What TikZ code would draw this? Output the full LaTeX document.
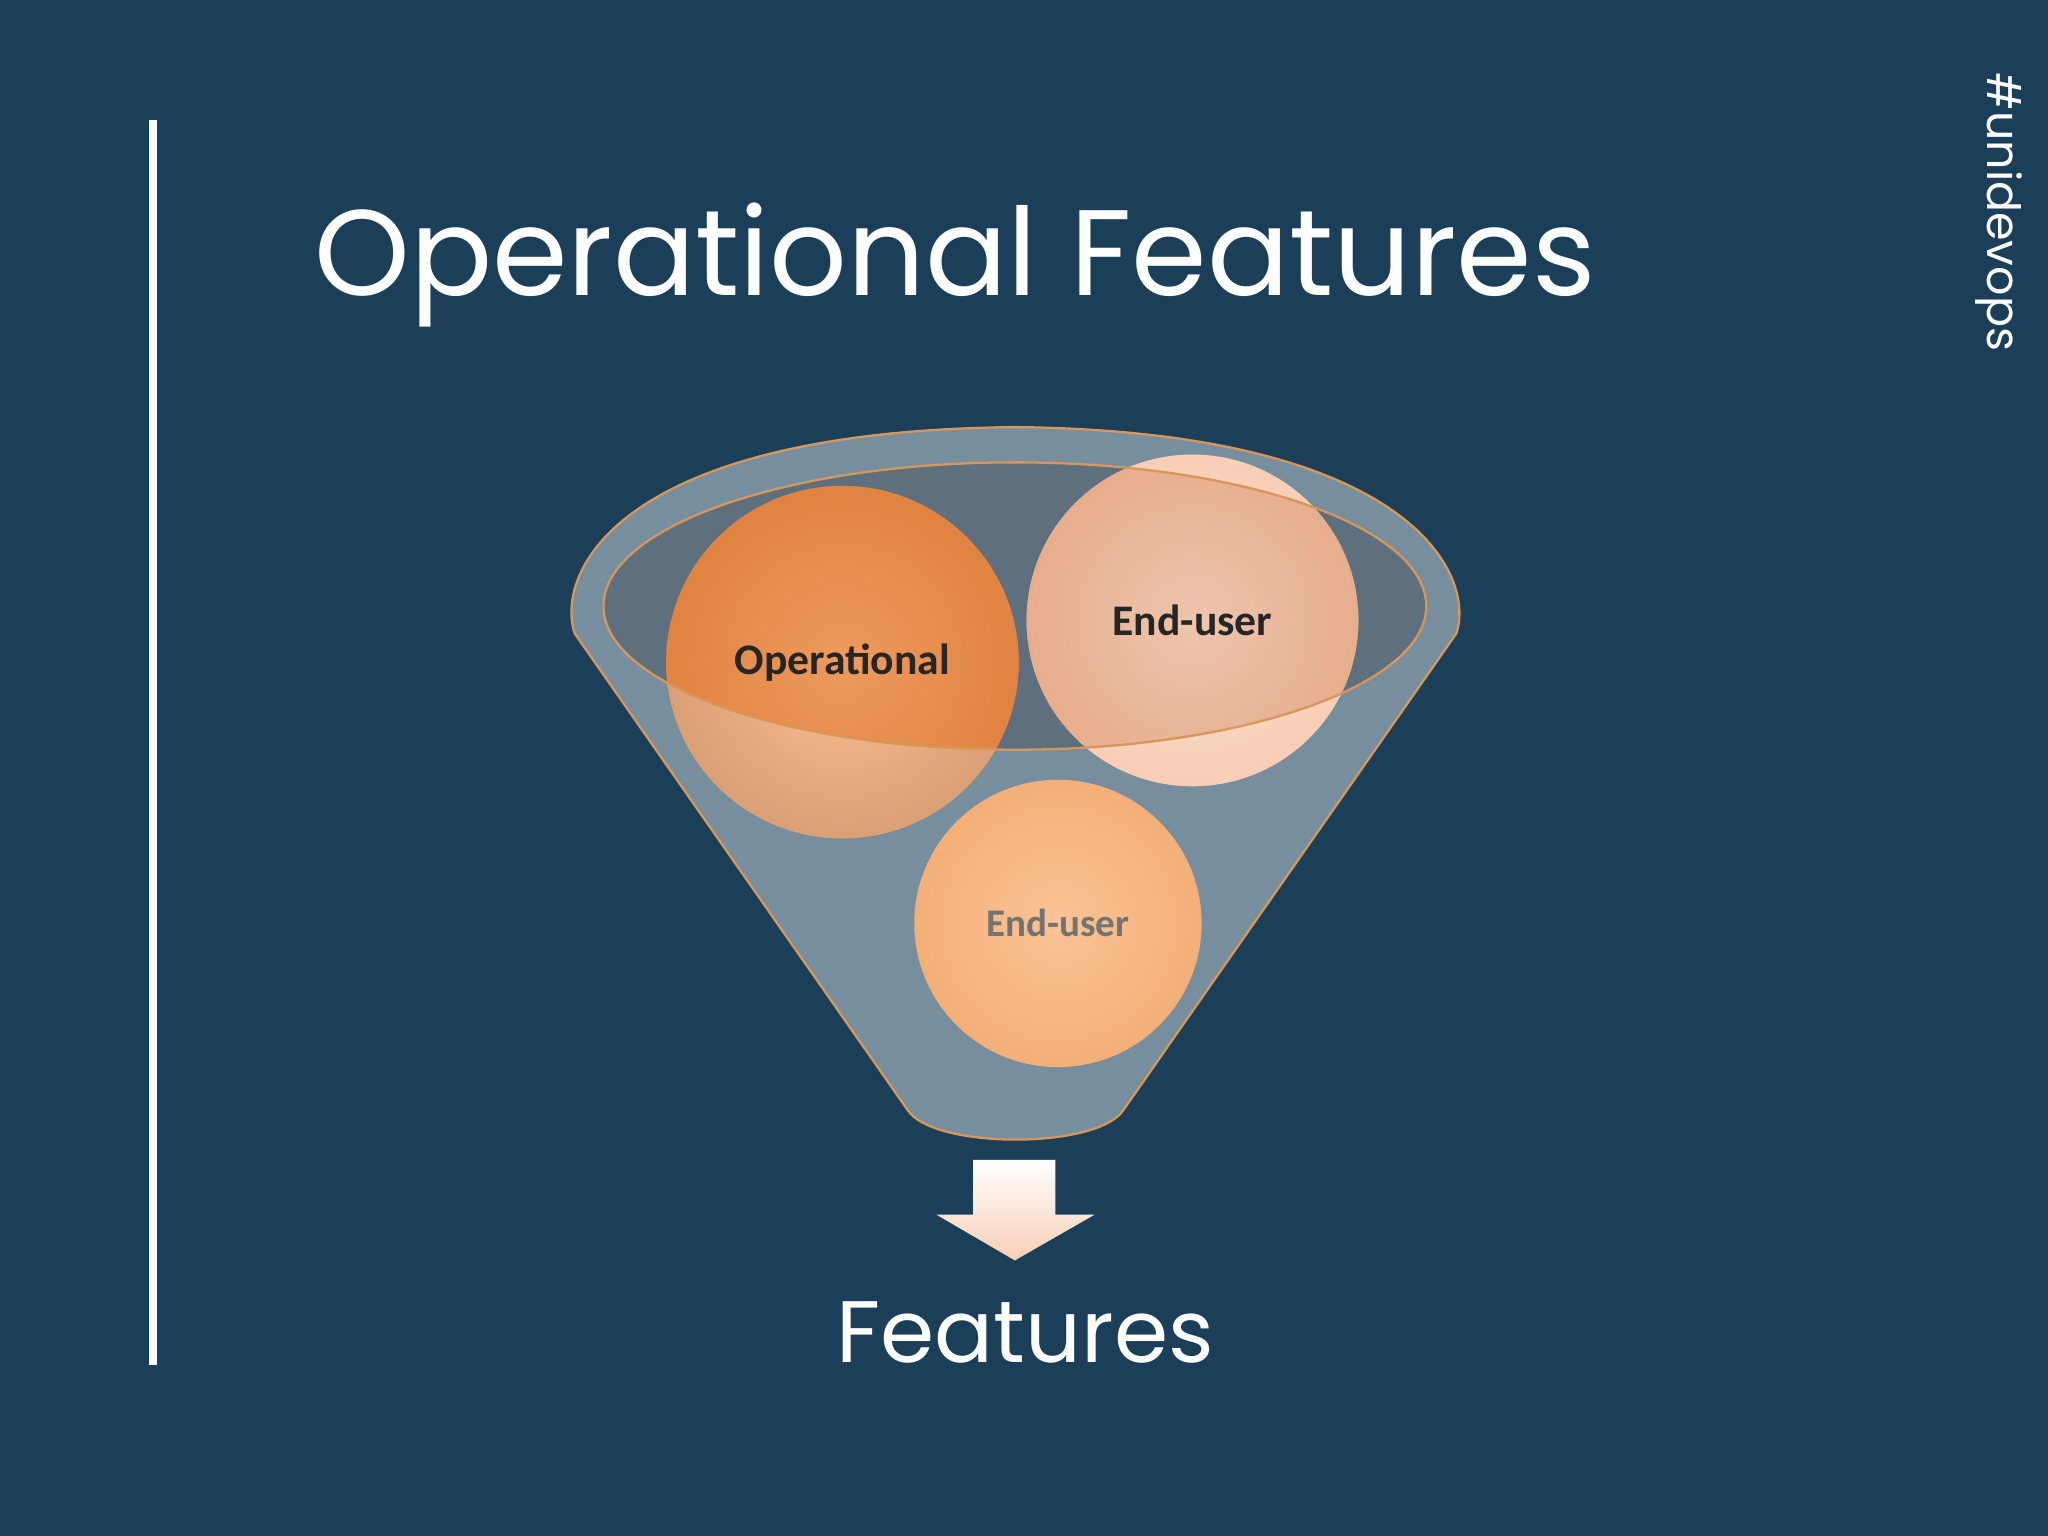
\documentclass[tikz,border=0pt]{standalone}
\usepackage{fontspec}
\setmainfont{Poppins}
\newfontfamily\bodyfont{Carlito}
\usetikzlibrary{shadings}
\definecolor{bg}{RGB}{28,63,89}
\definecolor{funnel}{RGB}{118,142,158}
\definecolor{edge}{RGB}{215,150,90}
\definecolor{orangeA}{RGB}{240,140,70}
\definecolor{orangeL}{RGB}{252,165,100}
\definecolor{peach}{RGB}{246,185,150}
\definecolor{peachL}{RGB}{252,210,185}
\definecolor{peachB}{RGB}{244,175,120}
\definecolor{peachBL}{RGB}{250,195,150}
\tikzset{circ/.style={circle,draw=none,inner sep=0,font=\bodyfont\bfseries\fontsize{9.5}{10}\selectfont}}
\begin{document}
\begin{tikzpicture}[x=0.01cm,y=-0.01cm]
\fill[bg] (0,0) rectangle (1568,1176);
\useasboundingbox (0,0) rectangle (1568,1176);
\fill[white] (114,92) rectangle (120,1045);
\node[anchor=base west,text=white,inner sep=0,font=\fontsize{26.5}{27}\selectfont] (title) at (240,226) {Operational Features};
\node[rotate=-90,anchor=base west,text=white,inner sep=0,font=\fontsize{10}{10}\selectfont] (tag) at (1522,55) {\#unidevops};
% funnel
\draw[edge,line width=0.5pt,fill=funnel] (440,485) .. controls (425,440) and (470,330) .. (777,327) .. controls (1080,330) and (1130,440) .. (1115,485) -- (860,850) .. controls (840,880) and (715,880) .. (695,850) -- cycle;
% circles
\shade[inner color=orangeL,outer color=orangeA!85!black] (645,507) circle (135);
\shade[inner color=peachL,outer color=peach] (913,475) circle (127);
\shade[inner color=peachBL,outer color=peachB] (810,707) circle (110);
\fill[white,opacity=0.3] (645,507) circle (135);
\fill[white,opacity=0.3] (913,475) circle (127);
\begin{scope}
\clip (777,464) ellipse (315 and 110);
\fill[black,opacity=0.15] (777,464) ellipse (315 and 110);
\shade[inner color=orangeL,outer color=orangeA] (645,507) circle (135);
\shade[inner color=peachL,outer color=peach] (913,475) circle (127);
\fill[black,opacity=0.06] (777,464) ellipse (315 and 110);
\end{scope}
\node[circ,text=black!85] (op) at (645,507) {Operational};
\node[circ,text=black!85] (eu1) at (913,475) {End-user};
\node[circ,text=black!55,font=\bodyfont\bfseries\fontsize{8.5}{9}\selectfont] (eu2) at (810,707) {End-user};
\draw[edge,line width=0.5pt] (777,464) ellipse (315 and 110);
% arrow
\shade[top color=white,bottom color=peach!70] (745,888) -- (808,888) -- (808,930) -- (838,930) -- (777,965) -- (717,930) -- (745,930) -- cycle;
\node[anchor=base,text=white,inner sep=0,font=\fontsize{19}{19}\selectfont] (feat) at (785,1043) {Features};
\end{tikzpicture}
\end{document}
